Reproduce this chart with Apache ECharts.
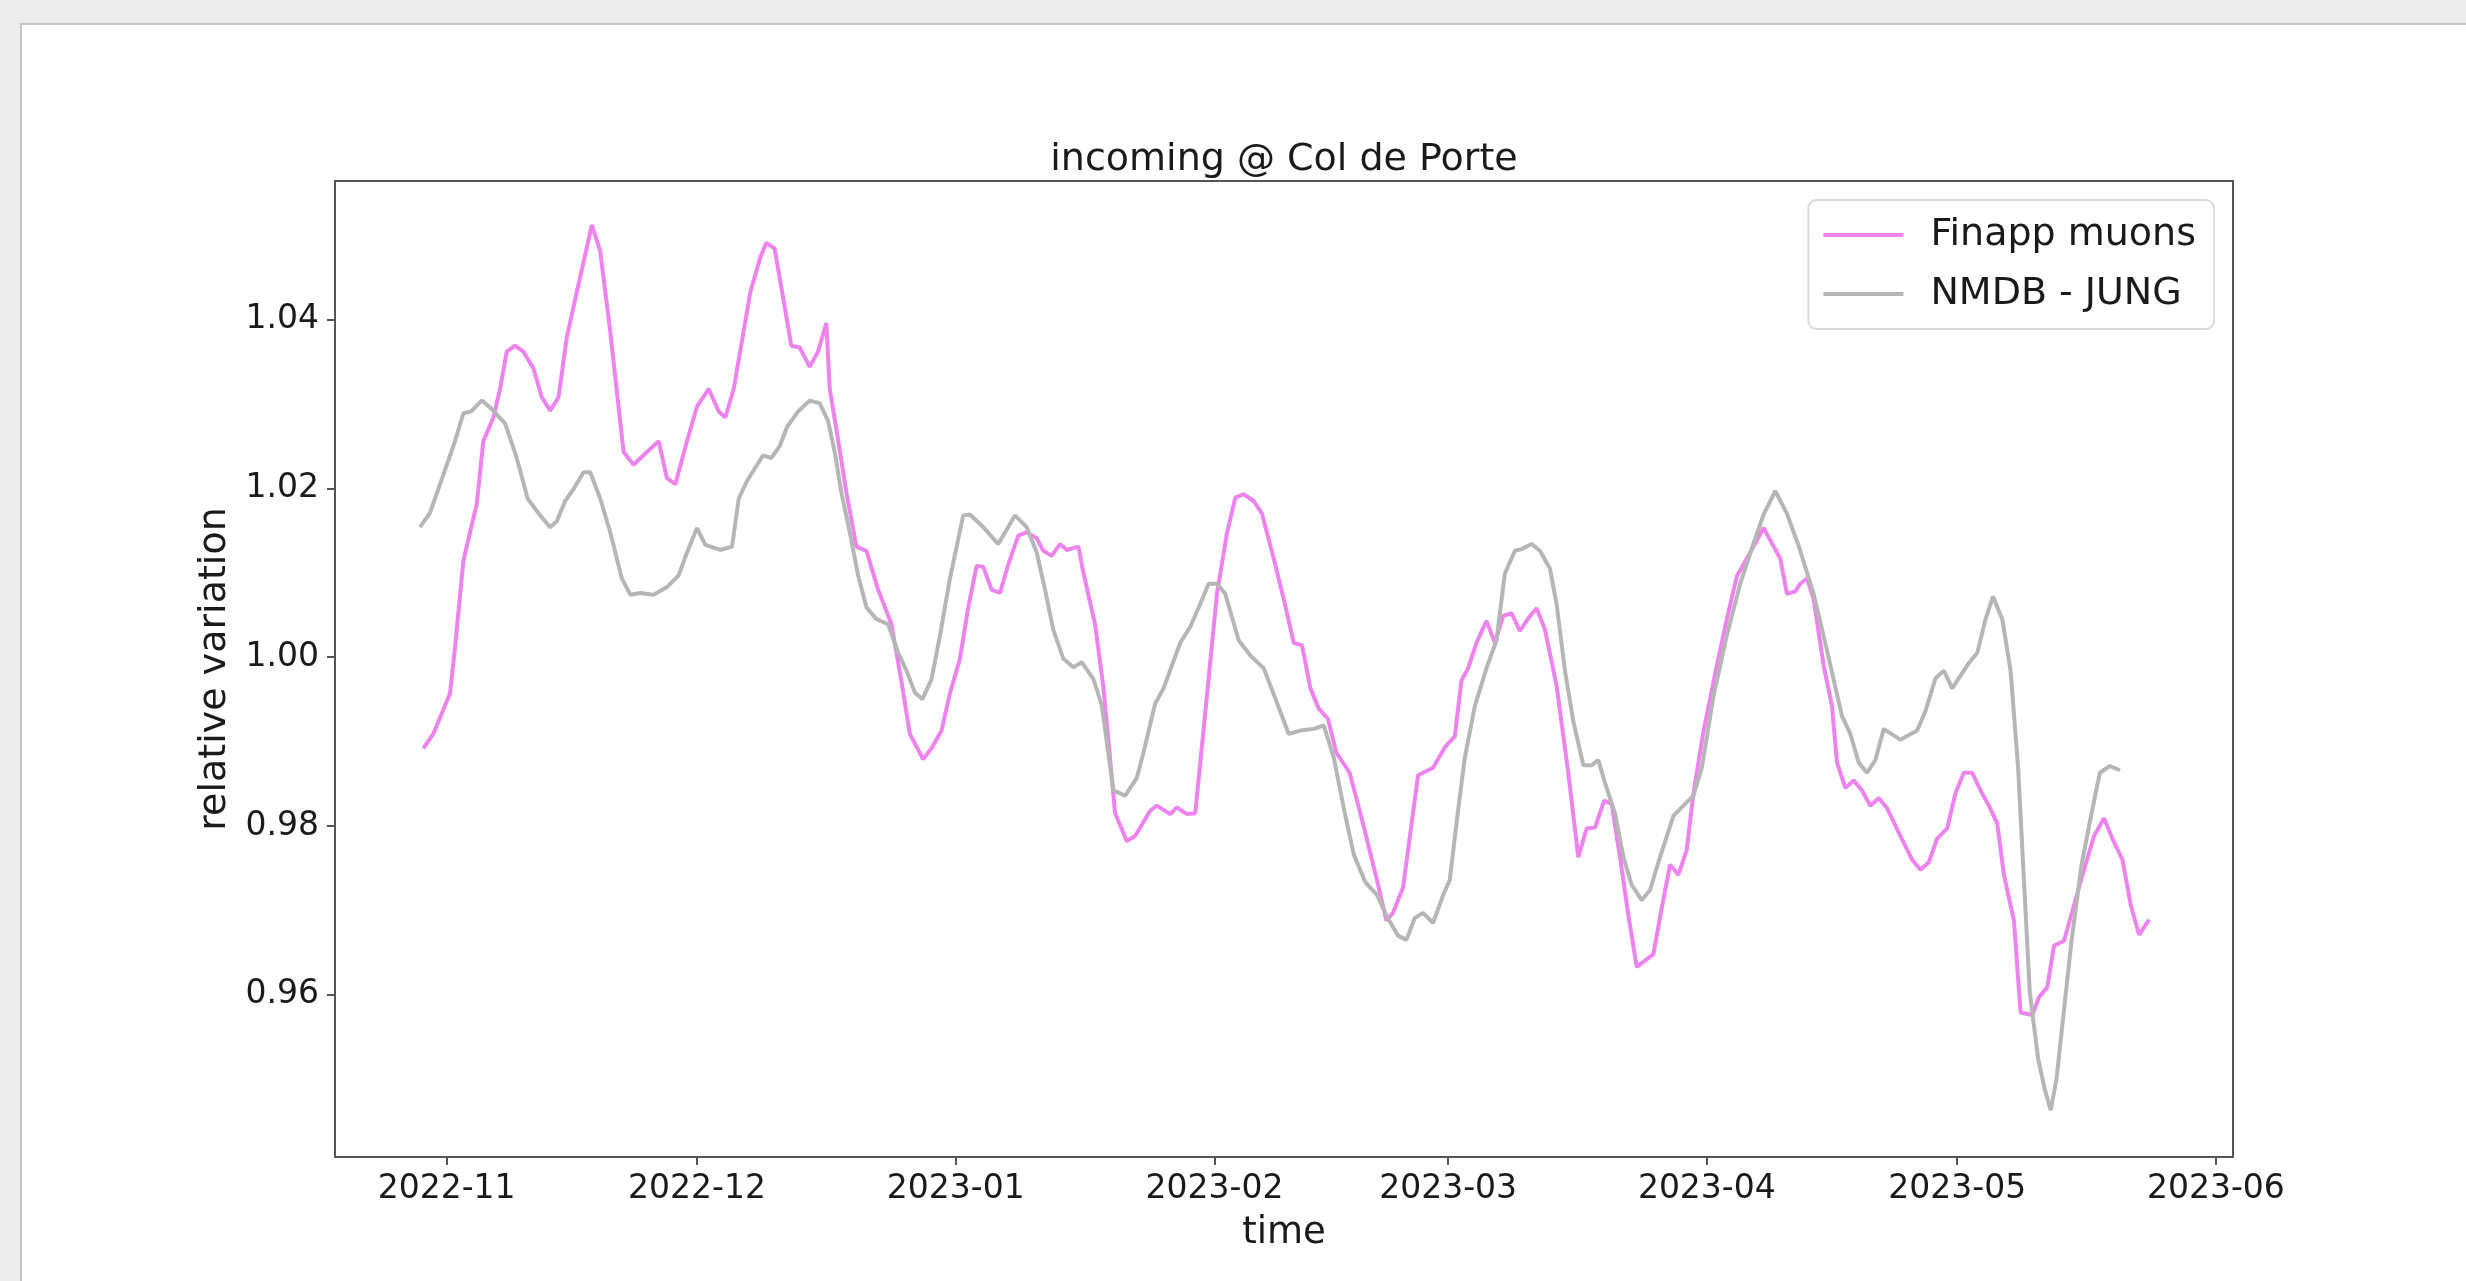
<!DOCTYPE html>
<html>
<head>
<meta charset="utf-8">
<script src="https://cdn.jsdelivr.net/npm/echarts@6/dist/echarts.min.js"></script>
<style>
html,body{margin:0;padding:0;background:#ececec;}
#chart{width:2466px;height:1281px;}
</style>
</head>
<body>
<div id="chart"></div>
<script>
// Days counted from 2022-11-01 (fractional)
const finappDays = [-2.8,-1.6,0.4,1.0,2.0,2.8,3.6,4.4,5.6,6.4,7.2,8.2,9.2,10.4,11.4,12.4,13.4,14.4,15.6,17.4,18.4,19.6,21.2,22.4,24.0,25.4,26.4,27.4,28.8,30.0,31.4,32.6,33.4,34.4,36.4,37.6,38.3,39.3,40.3,41.3,42.3,43.5,44.5,45.5,45.9,46.7,47.9,49.1,50.3,51.7,53.3,54.5,55.5,57.1,58.1,59.3,60.3,61.5,62.5,63.5,64.3,65.3,66.3,67.3,68.5,69.5,70.7,71.5,72.5,73.5,74.3,75.7,76.3,77.7,78.7,80.1,81.5,82.5,84.3,85.1,86.7,87.5,88.7,89.7,91.1,92.3,93.5,94.5,95.5,96.7,97.7,99.1,100.3,101.5,102.5,103.5,104.5,105.6,106.6,108.2,109.8,111.4,112.6,113.4,114.6,116.4,118.2,119.6,120.2,120.8,121.6,122.4,123.4,124.6,125.6,126.6,127.6,128.6,129.6,130.6,131.6,133.0,134.4,135.6,136.6,137.6,138.7,139.6,140.6,141.6,142.6,144.6,145.6,146.6,147.6,148.6,149.4,150.6,152.2,153.4,154.6,155.8,156.8,157.8,158.8,159.8,160.6,161.6,162.2,163.0,163.8,165.0,166.0,166.6,167.6,168.6,169.6,170.6,171.6,172.6,174.2,175.6,176.6,177.6,178.6,179.8,180.8,181.8,182.8,183.8,184.8,185.8,186.6,187.8,188.6,190.0,190.8,191.8,192.6,193.8,195.0,196.2,197.4,198.6,199.6,200.8,201.8,202.8,204.0];
const finappValues = [0.9892,0.9909,0.9957,1.0011,1.0114,1.0148,1.0181,1.0256,1.0284,1.0318,1.0362,1.0369,1.0362,1.0342,1.0308,1.0292,1.0308,1.0379,1.0433,1.0512,1.0481,1.0386,1.0243,1.0228,1.0243,1.0256,1.0212,1.0205,1.0256,1.0297,1.0318,1.0291,1.0284,1.0318,1.0433,1.0474,1.0491,1.0484,1.0427,1.0369,1.0367,1.0344,1.0362,1.0396,1.0318,1.0270,1.0195,1.0131,1.0126,1.0080,1.0039,0.9971,0.9909,0.9879,0.9892,0.9913,0.9957,0.9998,1.0059,1.0108,1.0107,1.0080,1.0076,1.0110,1.0144,1.0148,1.0141,1.0126,1.0120,1.0134,1.0127,1.0131,1.0100,1.0039,0.9964,0.9815,0.9782,0.9788,0.9818,0.9824,0.9814,0.9822,0.9814,0.9815,0.9954,1.0075,1.0147,1.0189,1.0193,1.0185,1.0170,1.0117,1.0069,1.0017,1.0014,0.9963,0.9939,0.9927,0.9887,0.9863,0.9803,0.9739,0.9688,0.9697,0.9727,0.9860,0.9869,0.9893,0.9900,0.9906,0.9972,0.9987,1.0017,1.0043,1.0017,1.0049,1.0052,1.0031,1.0046,1.0058,1.0033,0.9966,0.9863,0.9763,0.9797,0.9798,0.9830,0.9826,0.9763,0.9694,0.9633,0.9648,0.9703,0.9754,0.9742,0.9772,0.9839,0.9912,0.9990,1.0045,1.0096,1.0117,1.0135,1.0153,1.0135,1.0117,1.0075,1.0078,1.0087,1.0093,1.0069,0.9990,0.9942,0.9875,0.9845,0.9854,0.9842,0.9824,0.9833,0.9821,0.9788,0.9760,0.9748,0.9757,0.9785,0.9797,0.9839,0.9863,0.9863,0.9842,0.9824,0.9803,0.9742,0.9688,0.9579,0.9576,0.9597,0.9609,0.9658,0.9664,0.9706,0.9748,0.9788,0.9809,0.9785,0.9760,0.9706,0.9671,0.9689];

const jungDays = [-3.2,-2.0,-0.4,1.0,2.0,2.9,4.2,5.4,7.0,8.4,9.7,11.2,12.4,13.2,14.2,15.2,16.4,17.2,18.4,19.6,21.0,22.0,23.2,24.8,26.4,27.8,28.8,30.0,31.0,32.8,34.2,35.0,36.0,37.9,38.9,39.9,40.8,42.1,43.5,44.7,45.7,46.5,47.3,48.3,49.3,50.3,51.5,52.9,54.1,55.1,56.1,57.0,58.1,59.1,60.3,61.9,62.7,64.3,66.1,67.1,68.1,69.5,70.7,71.7,72.7,73.9,75.1,76.1,77.5,78.5,79.9,81.3,82.7,83.5,84.9,85.9,87.9,89.1,90.3,91.3,92.3,93.3,94.9,96.3,97.9,99.3,100.9,102.3,103.9,105.1,106.3,107.5,108.7,110.1,111.5,112.6,114.0,115.0,116.0,117.0,118.2,119.4,120.2,121.0,122.0,123.2,124.6,125.8,126.8,128.0,128.8,130.0,131.0,132.2,133.0,134.0,135.0,136.2,137.2,138.0,138.8,140.0,141.0,142.0,143.2,144.2,145.2,147.0,148.2,149.4,150.4,151.8,153.4,155.0,156.4,157.8,159.2,160.6,162.0,163.8,165.4,167.2,168.2,169.2,170.2,171.2,172.2,174.2,176.2,177.2,178.4,179.4,180.4,181.4,182.4,183.4,184.4,185.3,186.4,187.4,188.3,188.9,189.7,190.7,191.5,192.2,192.9,193.7,194.7,195.9,197.1,198.1,199.3,200.5];
const jungValues = [1.0154,1.0171,1.0216,1.0256,1.0289,1.0291,1.0304,1.0294,1.0277,1.0236,1.0188,1.0168,1.0154,1.0161,1.0185,1.0199,1.0219,1.0219,1.0188,1.0148,1.0093,1.0074,1.0076,1.0074,1.0083,1.0097,1.0124,1.0153,1.0133,1.0127,1.0131,1.0188,1.0209,1.0239,1.0236,1.0250,1.0273,1.0291,1.0304,1.0301,1.0280,1.0243,1.0195,1.0148,1.0097,1.0059,1.0045,1.0039,1.0005,0.9984,0.9958,0.9950,0.9974,1.0025,1.0093,1.0168,1.0169,1.0154,1.0134,1.0151,1.0168,1.0154,1.0124,1.0080,1.0032,0.9998,0.9988,0.9994,0.9974,0.9943,0.9842,0.9836,0.9857,0.9887,0.9945,0.9963,1.0017,1.0036,1.0063,1.0087,1.0087,1.0075,1.0020,1.0002,0.9987,0.9951,0.9909,0.9913,0.9915,0.9919,0.9881,0.9821,0.9766,0.9733,0.9718,0.9694,0.9670,0.9665,0.9691,0.9697,0.9685,0.9718,0.9736,0.9803,0.9881,0.9942,0.9987,1.0020,1.0099,1.0126,1.0128,1.0134,1.0126,1.0105,1.0063,0.9984,0.9924,0.9872,0.9872,0.9878,0.9851,0.9815,0.9763,0.9730,0.9712,0.9724,0.9757,0.9812,0.9824,0.9836,0.9869,0.9954,1.0026,1.0087,1.0129,1.0169,1.0197,1.0170,1.0132,1.0075,1.0008,0.9930,0.9909,0.9875,0.9863,0.9878,0.9915,0.9902,0.9913,0.9936,0.9975,0.9984,0.9963,0.9978,0.9993,1.0005,1.0045,1.0072,1.0045,0.9984,0.9869,0.9754,0.9603,0.9524,0.9488,0.9463,0.9500,0.9573,0.9664,0.9754,0.9815,0.9863,0.9871,0.9866];

const seriesNames = ['Finapp muons', 'NMDB - JUNG'];
const yTicks = [0.96, 0.98, 1.00, 1.02, 1.04];
const monthTicks = ['2022-11','2022-12','2023-01','2023-02','2023-03','2023-04','2023-05','2023-06'];
const dayRange = [-13.38, 214.05];   // visible x extent, days from 2022-11-01
const valueRange = [0.94077, 1.05642];

const DAY = 86400000;
const base = Date.UTC(2022, 10, 1);
const toTime = d => base + d * DAY;
const monthTime = s => { const p = s.split('-'); return Date.UTC(+p[0], +p[1] - 1, 1); };
const pad2 = n => (n < 10 ? '0' : '') + n;
const monthTickTimes = monthTicks.map(monthTime);

const FONT = 'DejaVu Sans';
const txt = '#1a1a1a';
const axisCol = '#555555';
const violet = '#ee82ee';
const grey = '#b6b6b6';

const titleText = 'incoming @ Col de Porte';
const meas = document.createElement('canvas').getContext('2d');
meas.font = '38px "' + FONT + '"';
const titleW = meas.measureText(titleText).width;
const plotLeft = 335, plotRight = 2233;
const plotCenter = (plotLeft + plotRight) / 2;

const chart = echarts.init(document.getElementById('chart'), null, {renderer: 'canvas', width: 2466, height: 1281});

const option = {
  animation: false,
  backgroundColor: '#ececec',
  graphic: {
    elements: [{
      type: 'rect', left: 20, top: 23, z: -100, silent: true,
      shape: {width: 2446, height: 1258},
      style: {fill: '#ffffff', stroke: '#c4c4c4', lineWidth: 2}
    }]
  },
  title: {
    text: titleText,
    left: plotCenter - titleW / 2,
    top: 141,
    padding: 0,
    textStyle: {fontFamily: FONT, fontSize: 38, fontWeight: 'normal', color: txt}
  },
  legend: {
    data: seriesNames,
    orient: 'vertical',
    right: 252,
    top: 200,
    icon: 'rect',
    itemWidth: 80,
    itemHeight: 4,
    itemGap: 21,
    padding: [16, 18, 16, 15],
    backgroundColor: 'rgba(255,255,255,0.85)',
    borderColor: '#dadada',
    borderWidth: 2,
    borderRadius: 8,
    textStyle: {fontFamily: FONT, fontSize: 38, color: txt, padding: [0, 0, 0, 22]}
  },
  grid: {
    left: plotLeft, top: 181, width: plotRight - plotLeft, height: 976,
    show: true, borderColor: axisCol, borderWidth: 2, backgroundColor: 'transparent',
    containLabel: false
  },
  xAxis: {
    type: 'value',
    min: toTime(dayRange[0]),
    max: toTime(dayRange[1]),
    name: 'time',
    nameLocation: 'middle',
    nameGap: 58,
    nameTextStyle: {fontFamily: FONT, fontSize: 37, color: txt},
    axisLine: {show: true, onZero: false, lineStyle: {color: axisCol, width: 2}},
    axisTick: {show: true, length: 8, lineStyle: {color: axisCol, width: 2}, customValues: monthTickTimes},
    axisLabel: {
      show: true, margin: 16, fontFamily: FONT, fontSize: 33, color: txt,
      customValues: monthTickTimes,
      formatter: v => { const d = new Date(v); return d.getUTCFullYear() + '-' + pad2(d.getUTCMonth() + 1); }
    },
    splitLine: {show: false}
  },
  yAxis: {
    type: 'value',
    min: valueRange[0],
    max: valueRange[1],
    name: 'relative variation',
    nameLocation: 'middle',
    nameGap: 94,
    nameTextStyle: {fontFamily: FONT, fontSize: 38, color: txt},
    axisLine: {show: true, onZero: false, lineStyle: {color: axisCol, width: 2}},
    axisTick: {show: true, length: 8, lineStyle: {color: axisCol, width: 2}, customValues: yTicks},
    axisLabel: {
      show: true, margin: 16, fontFamily: FONT, fontSize: 33, color: txt,
      customValues: yTicks,
      formatter: v => v.toFixed(2)
    },
    splitLine: {show: false}
  },
  series: [
    {
      name: seriesNames[0], type: 'line', symbol: 'none', showSymbol: false,
      data: finappDays.map((d, i) => [toTime(d), finappValues[i]]),
      lineStyle: {color: violet, width: 4},
      itemStyle: {color: violet},
      z: 2
    },
    {
      name: seriesNames[1], type: 'line', symbol: 'none', showSymbol: false,
      data: jungDays.map((d, i) => [toTime(d), jungValues[i]]),
      lineStyle: {color: grey, width: 4},
      itemStyle: {color: grey},
      z: 3
    }
  ]
};
chart.setOption(option);
</script>
</body>
</html>
